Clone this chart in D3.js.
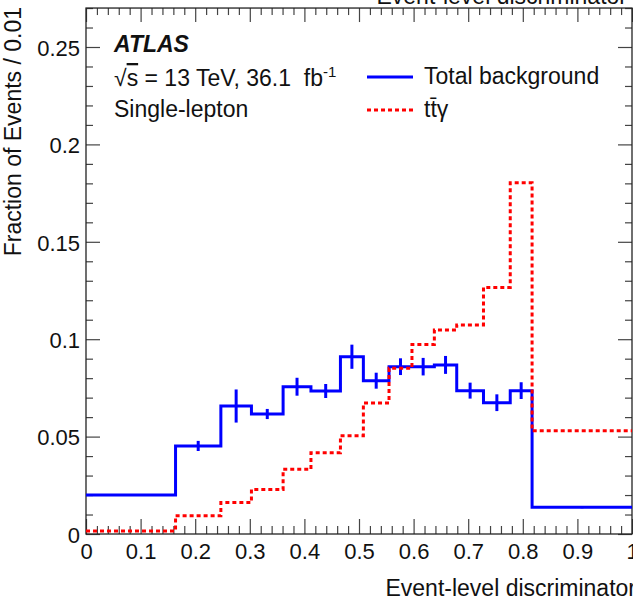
<!DOCTYPE html>
<html>
<head>
<meta charset="utf-8">
<script src="https://cdn.jsdelivr.net/npm/d3@7"></script>
<style>
  html, body { margin: 0; padding: 0; background: #fff; }
  svg { display: block; font-family: "Liberation Sans", Arial, sans-serif; }
  text { white-space: pre; }
</style>
</head>
<body>
<svg id="chart" width="633" height="601"></svg>
<script>
// bin edges of the event-level discriminator (variable width)
var binEdges = [0, 0.164, 0.247, 0.303, 0.361, 0.412, 0.466, 0.508, 0.555,
                0.597, 0.638, 0.679, 0.728, 0.777, 0.817, 1.0];

// total background, fraction of events per bin, and its stat error
var bkgValues = [0.0200, 0.0452, 0.0657, 0.0616, 0.0756, 0.0734, 0.0910, 0.0787,
                 0.0859, 0.0859, 0.0868, 0.0736, 0.0674, 0.0736, 0.0137];
var bkgErrors = [0.0005, 0.0026, 0.0085, 0.0026, 0.0046, 0.0036, 0.0062, 0.0041,
                 0.0043, 0.0045, 0.0046, 0.0041, 0.0043, 0.0043, 0.0005];

// ttgamma signal
var sigValues = [0.0015, 0.0094, 0.0162, 0.0229, 0.0332, 0.0417, 0.0505, 0.0672,
                 0.0851, 0.0973, 0.1047, 0.1073, 0.1266, 0.1803, 0.0530];

var xTickLabels = ['0', '0.1', '0.2', '0.3', '0.4', '0.5', '0.6', '0.7', '0.8', '0.9', '1'];
var yTickLabels = ['0', '0.05', '0.1', '0.15', '0.2', '0.25'];

var svg = d3.select('#chart');

var x = d3.scaleLinear().domain([0, 1]).range([86, 632]);
var y = d3.scaleLinear().domain([0, 0.27]).range([534, 8.04]);

var frameColor = '#222';

function styleAxis(g) {
    g.select('.domain').remove();
    g.selectAll('.tick line').attr('stroke', '#444').attr('stroke-width', 1.2);
    g.selectAll('.tick text').attr('fill', '#111')
        .style('font-family', '"Liberation Sans", Arial, sans-serif')
        .style('font-size', '22px');
}

var xMajor = xTickLabels.map(function (d) { return +d; });
var yMajor = yTickLabels.map(function (d) { return +d; });
var xMinor = d3.range(0, 51).map(function (i) { return i / 50; })
    .filter(function (v) { return Math.round(v * 50) % 5 !== 0; });
var yMinor = d3.range(0, 28).map(function (i) { return i / 100; })
    .filter(function (v) { return Math.round(v * 100) % 5 !== 0; });

// bottom axis
svg.append('g')
    .attr('transform', 'translate(0,' + y(0) + ')')
    .call(d3.axisBottom(x).tickValues(xMajor).tickSizeInner(-15).tickSizeOuter(0).tickPadding(4)
        .tickFormat(function (d, i) { return xTickLabels[i]; }))
    .call(styleAxis)
    .call(function (g) { g.selectAll('.tick text').attr('dy', '0.95em'); });
svg.append('g')
    .attr('transform', 'translate(0,' + y(0) + ')')
    .call(d3.axisBottom(x).tickValues(xMinor).tickSizeInner(-8).tickSizeOuter(0).tickFormat(''))
    .call(styleAxis);

// top axis (ticks only)
svg.append('g')
    .attr('transform', 'translate(0,' + y(0.27) + ')')
    .call(d3.axisTop(x).tickValues(xMajor).tickSizeInner(-14).tickSizeOuter(0).tickFormat(''))
    .call(styleAxis);
svg.append('g')
    .attr('transform', 'translate(0,' + y(0.27) + ')')
    .call(d3.axisTop(x).tickValues(xMinor).tickSizeInner(-7).tickSizeOuter(0).tickFormat(''))
    .call(styleAxis);

// left axis
svg.append('g')
    .attr('transform', 'translate(' + x(0) + ',0)')
    .call(d3.axisLeft(y).tickValues(yMajor).tickSizeInner(-14).tickSizeOuter(0).tickPadding(6)
        .tickFormat(function (d, i) { return yTickLabels[i]; }))
    .call(styleAxis)
    .call(function (g) { g.selectAll('.tick text').attr('dy', '0.38em'); });
svg.append('g')
    .attr('transform', 'translate(' + x(0) + ',0)')
    .call(d3.axisLeft(y).tickValues(yMinor).tickSizeInner(-7).tickSizeOuter(0).tickFormat(''))
    .call(styleAxis);

// right axis (ticks only)
svg.append('g')
    .attr('transform', 'translate(' + x(1) + ',0)')
    .call(d3.axisRight(y).tickValues(yMajor).tickSizeInner(-14).tickSizeOuter(0).tickFormat(''))
    .call(styleAxis);
svg.append('g')
    .attr('transform', 'translate(' + x(1) + ',0)')
    .call(d3.axisRight(y).tickValues(yMinor).tickSizeInner(-7).tickSizeOuter(0).tickFormat(''))
    .call(styleAxis);

// frame
svg.append('rect')
    .attr('x', x(0)).attr('y', y(0.27))
    .attr('width', x(1) - x(0)).attr('height', y(0) - y(0.27))
    .attr('fill', 'none').attr('stroke', frameColor).attr('stroke-width', 1.3);

// step histograms
function stepPoints(values) {
    var pts = values.map(function (v, i) { return [binEdges[i], v]; });
    pts.push([binEdges[binEdges.length - 1], values[values.length - 1]]);
    return pts;
}
var stepLine = d3.line()
    .x(function (d) { return x(d[0]); })
    .y(function (d) { return y(d[1]); })
    .curve(d3.curveStepAfter);

var plot = svg.append('g');

plot.append('path')
    .datum(stepPoints(bkgValues))
    .attr('d', stepLine)
    .attr('fill', 'none')
    .attr('stroke', '#0000ff')
    .attr('stroke-width', 3);

plot.selectAll('line.bkg-err')
    .data(bkgValues)
    .enter().append('line')
    .attr('class', 'bkg-err')
    .attr('x1', function (d, i) { return x((binEdges[i] + binEdges[i + 1]) / 2); })
    .attr('x2', function (d, i) { return x((binEdges[i] + binEdges[i + 1]) / 2); })
    .attr('y1', function (d, i) { return y(d - bkgErrors[i]); })
    .attr('y2', function (d, i) { return y(d + bkgErrors[i]); })
    .attr('stroke', '#0000ff')
    .attr('stroke-width', 3);

plot.append('path')
    .datum(stepPoints(sigValues))
    .attr('d', stepLine)
    .attr('fill', 'none')
    .attr('stroke', '#ff0000')
    .attr('stroke-width', 3)
    .attr('stroke-dasharray', '4,3');

// y axis title
svg.append('text')
    .attr('transform', 'translate(21,7) rotate(-90)')
    .attr('text-anchor', 'end')
    .style('font-size', '23px')
    .attr('fill', '#111')
    .text('Fraction of Events / 0.01');

// x axis title
svg.append('text')
    .attr('x', 636).attr('y', 596)
    .attr('text-anchor', 'end')
    .style('font-size', '23px')
    .attr('fill', '#111')
    .text('Event-level discriminator');

// clipped title from the panel above
svg.append('text')
    .attr('x', 627).attr('y', 4)
    .attr('text-anchor', 'end')
    .style('font-size', '23px')
    .attr('fill', '#111')
    .text('Event-level discriminator');

// ATLAS label block
svg.append('text')
    .attr('x', 114).attr('y', 52)
    .style('font-size', '23px')
    .style('font-weight', 'bold')
    .style('font-style', 'italic')
    .attr('fill', '#111')
    .text('ATLAS');

var lumi = svg.append('text')
    .attr('x', 114).attr('y', 86)
    .style('font-size', '23px')
    .attr('fill', '#111');
lumi.append('tspan').text('\u221A');
lumi.append('tspan').style('text-decoration', 'overline').text('s');
lumi.append('tspan').text(' = 13 TeV, 36.1  fb');
lumi.append('tspan').attr('dy', -9).style('font-size', '15px').text('-1');

svg.append('text')
    .attr('x', 114).attr('y', 117)
    .style('font-size', '23px')
    .attr('fill', '#111')
    .text('Single-lepton');

// legend
var legendItems = [
    { label: 'Total background', color: '#0000ff', dash: null, y: 77 },
    { label: 'tt\u0304\u03B3', color: '#ff0000', dash: '4,3', y: 110 }
];
var legend = svg.append('g');
legendItems.forEach(function (item) {
    legend.append('line')
        .attr('x1', 367).attr('x2', 413)
        .attr('y1', item.y).attr('y2', item.y)
        .attr('stroke', item.color)
        .attr('stroke-width', 3)
        .attr('stroke-dasharray', item.dash);
    legend.append('text')
        .attr('x', 424).attr('y', item.y + 7)
        .style('font-size', '23px')
        .attr('fill', '#111')
        .text(item.label);
});
</script>
</body>
</html>
